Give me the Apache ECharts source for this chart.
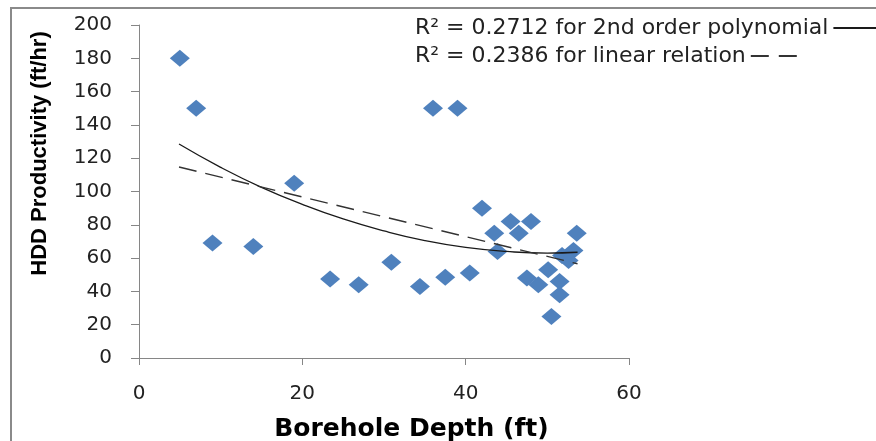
<!DOCTYPE html>
<html>
<head>
<meta charset="utf-8">
<script src="https://cdn.jsdelivr.net/npm/echarts@6/dist/echarts.min.js"></script>
<style>
html,body{margin:0;padding:0;background:#fff;}
#chart{width:876px;height:441px;}
</style>
</head>
<body>
<div id="chart"></div>
<script>
// Scatter data: borehole depth (ft) vs HDD productivity (ft/hr)
const depth = [5, 7, 9, 14, 19, 23.4, 26.9, 30.9, 34.4, 36, 37.5, 39, 40.5, 42, 43.5, 43.9, 45.5, 46.5, 48, 47.5, 48.9, 50.1, 50.5, 51.5, 51.5, 53.6, 53.2, 51.8, 52.6];
const productivity = [180, 150, 69, 67, 105, 47.5, 44, 57.5, 43, 150, 48.5, 150, 51, 90, 75, 64, 82, 75, 82, 48, 44, 53, 25, 38, 46, 75, 64.5, 61.5, 58.5];

// Trend lines
const polyX = [4.9, 10, 15, 20, 25, 30, 35, 40, 45, 50, 53.7];
const polyY = [128.5, 114.5, 102.5, 92.3, 83.5, 76.3, 70.5, 66.4, 64, 63, 63.5];
const linX = [4.9, 53.7];
const linY = [114.7, 56.6];

const xTicks = [0, 20, 40, 60];
const yTicks = [0, 20, 40, 60, 80, 100, 120, 140, 160, 180, 200];

const polyName = 'R\u00B2 = 0.2712 for 2nd order polynomial';
const linName = 'R\u00B2 = 0.2386 for linear relation';

const zip = (a, b) => a.map((v, i) => [v, b[i]]);

const legendText = {fontFamily: 'DejaVu Sans', fontSize: 22, color: '#222', lineHeight: 24};
const legendCommon = {
  orient: 'horizontal',
  left: 415,
  padding: 0,
  align: 'right',
  itemWidth: 46,
  itemHeight: 2,
  symbolKeepAspect: false,
  textStyle: legendText
};

const chart = echarts.init(document.getElementById('chart'), null, {renderer: 'canvas'});
chart.setOption({
  animation: false,
  backgroundColor: '#ffffff',
  graphic: [{
    type: 'rect',
    shape: {x: 11, y: 8, width: 900, height: 500},
    style: {fill: 'none', stroke: '#8a8a8a', lineWidth: 2},
    silent: true
  }],
  grid: {left: 139, top: 25, width: 490, height: 333, containLabel: false, outerBoundsMode: 'none'},
  legend: [
    Object.assign({}, legendCommon, {
      top: 16,
      data: [{name: polyName, icon: 'path://M0,0H46V2H0Z'}]
    }),
    Object.assign({}, legendCommon, {
      top: 44,
      data: [{name: linName, icon: 'path://M0,0H18V2H0Z M28,0H46V2H28Z'}]
    })
  ],
  xAxis: {
    type: 'value',
    min: 0, max: 60, interval: 20,
    name: 'Borehole Depth (ft)',
    nameLocation: 'middle',
    nameGap: 59,
    nameTextStyle: {fontFamily: 'DejaVu Sans', fontWeight: 'bold', fontSize: 25, color: '#000', padding: [0, 0, 0, 55]},
    axisLine: {show: true, lineStyle: {color: '#868686', width: 1}},
    axisTick: {show: true, inside: false, length: 7, lineStyle: {color: '#868686'}},
    axisLabel: {fontFamily: 'DejaVu Sans', fontSize: 20, color: '#222', margin: 26,
      formatter: v => xTicks.includes(v) ? String(v) : ''},
    splitLine: {show: false}
  },
  yAxis: {
    type: 'value',
    min: 0, max: 200, interval: 20,
    name: 'HDD Productivity (ft/hr)',
    nameLocation: 'middle',
    nameGap: 88,
    nameTextStyle: {fontFamily: 'Liberation Sans', fontWeight: 'bold', fontSize: 22, color: '#000', padding: [0, 0, 0, 76]},
    axisLine: {show: true, lineStyle: {color: '#868686', width: 1}},
    axisTick: {show: true, inside: false, length: 8, lineStyle: {color: '#868686'}},
    axisLabel: {fontFamily: 'DejaVu Sans', fontSize: 20, color: '#222', margin: 27,
      formatter: v => yTicks.includes(v) ? String(v) : ''},
    splitLine: {show: false}
  },
  series: [
    {
      type: 'scatter',
      name: 'data',
      data: zip(depth, productivity),
      symbol: 'diamond',
      symbolSize: [20, 17],
      itemStyle: {color: '#4F81BD', opacity: 1},
      z: 2
    },
    {
      type: 'line',
      name: polyName,
      data: zip(polyX, polyY),
      smooth: true,
      symbol: 'none',
      showSymbol: false,
      lineStyle: {color: '#1a1a1a', width: 1.3, type: 'solid'},
      itemStyle: {color: '#1a1a1a'},
      z: 3
    },
    {
      type: 'line',
      name: linName,
      data: zip(linX, linY),
      symbol: 'none',
      showSymbol: false,
      lineStyle: {color: '#333', width: 1.4, type: [18, 9]},
      itemStyle: {color: '#333'},
      z: 3
    }
  ]
});
</script>
</body>
</html>
